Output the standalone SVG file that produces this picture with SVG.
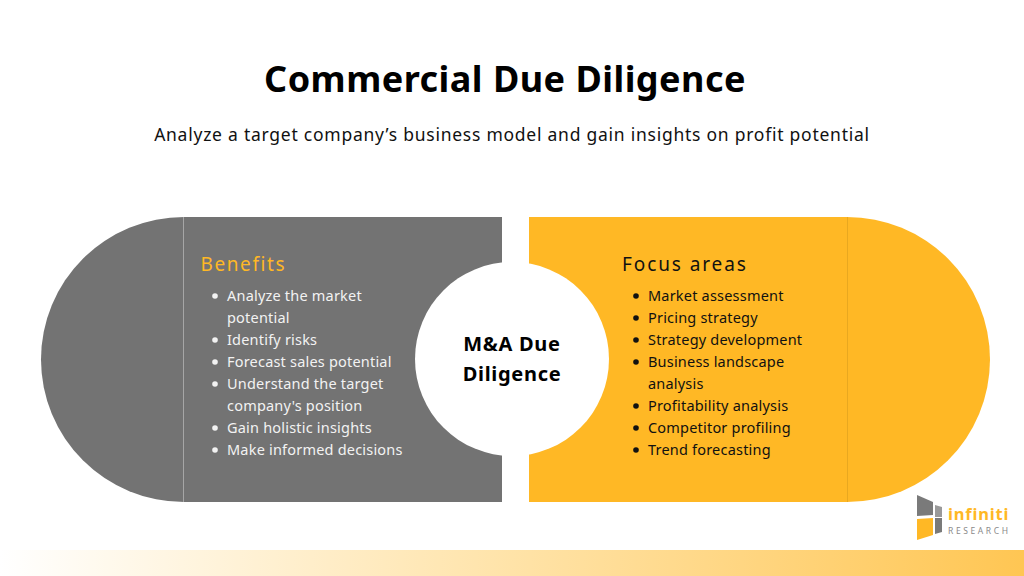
<svg xmlns="http://www.w3.org/2000/svg" width="1024" height="576" viewBox="0 0 1024 576">
<defs>
<linearGradient id="band" x1="0" x2="1" y1="0" y2="0"><stop offset="0" stop-color="#ffffff"/><stop offset="0.5" stop-color="#ffe3a8"/><stop offset="1" stop-color="#ffc653"/></linearGradient>
</defs>
<style>
text{font-family:"Noto Sans","Open Sans","DejaVu Sans",sans-serif}
.li{font-size:14.5px;letter-spacing:.2px}
.w{fill:#f2f2f2}.k{fill:#111}
.h{font-size:19px;letter-spacing:1.6px}
</style>
<rect width="1024" height="576" fill="#fff"/>
<rect id="band-bottom" x="0" y="550" width="1024" height="26" fill="url(#band)"/>
<g id="title">
<text x="505" y="92" text-anchor="middle" font-size="36" font-weight="700" letter-spacing=".47" fill="#000">Commercial Due Diligence</text>
<text x="512" y="141" text-anchor="middle" font-size="17.5" letter-spacing=".75" fill="#111">Analyze a target company’s business model and gain insights on profit potential</text>
</g>
<g id="benefits">
<path d="M184 217H502V502H184A143 142.500 0 0 1 184 217Z" fill="#737373"/>
<line x1="183.500" y1="217" x2="183.500" y2="502" stroke="#a6a6a6" stroke-width="1"/>
<text class="h" x="200.500" y="271" fill="#ffb825">Benefits</text>
<g class="w">
<circle cx="215" cy="296" r="2.800"/><circle cx="215" cy="340" r="2.800"/><circle cx="215" cy="362" r="2.800"/><circle cx="215" cy="384" r="2.800"/><circle cx="215" cy="428" r="2.800"/><circle cx="215" cy="450" r="2.800"/>
<text class="li" x="227" y="301">Analyze the market</text>
<text class="li" x="227" y="323">potential</text>
<text class="li" x="227" y="345">Identify risks</text>
<text class="li" x="227" y="367">Forecast sales potential</text>
<text class="li" x="227" y="389">Understand the target</text>
<text class="li" x="227" y="411">company's position</text>
<text class="li" x="227" y="433">Gain holistic insights</text>
<text class="li" x="227" y="455">Make informed decisions</text>
</g>
</g>
<g id="focus">
<path d="M529 217H847A143 142.500 0 0 1 847 502H529Z" fill="#ffb825"/>
<line x1="847.500" y1="217" x2="847.500" y2="502" stroke="#e8a820" stroke-width="1"/>
<text class="h k" x="622" y="271" style="letter-spacing:1.9px">Focus areas</text>
<g class="k">
<circle cx="636" cy="296" r="2.800"/><circle cx="636" cy="318" r="2.800"/><circle cx="636" cy="340" r="2.800"/><circle cx="636" cy="362" r="2.800"/><circle cx="636" cy="406" r="2.800"/><circle cx="636" cy="428" r="2.800"/><circle cx="636" cy="450" r="2.800"/>
<text class="li" x="648" y="301">Market assessment</text>
<text class="li" x="648" y="323">Pricing strategy</text>
<text class="li" x="648" y="345">Strategy development</text>
<text class="li" x="648" y="367">Business landscape</text>
<text class="li" x="648" y="389">analysis</text>
<text class="li" x="648" y="411">Profitability analysis</text>
<text class="li" x="648" y="433">Competitor profiling</text>
<text class="li" x="648" y="455">Trend forecasting</text>
</g>
</g>
<g id="center">
<circle cx="512" cy="359" r="97" fill="#fff"/>
<text x="512" y="351" text-anchor="middle" font-size="20" font-weight="700" letter-spacing=".7" fill="#000">M&amp;A Due</text>
<text x="512" y="381" text-anchor="middle" font-size="20" font-weight="700" letter-spacing=".7" fill="#000">Diligence</text>
</g>
<g id="logo">
<polygon points="917,495 933,502 933,515 917,516" fill="#7a7a7a"/>
<polygon points="935,505 942,507 942,517 935,517" fill="#9a9a9a"/>
<polygon points="917,519 933,518 933,535 917,540" fill="#ffb825"/>
<polygon points="935,518 942,518 942,532 935,534" fill="#7a7a7a"/>
<text x="948" y="520" font-size="16.500" font-weight="700" letter-spacing=".8" fill="#ffb825">infiniti</text>
<text x="948" y="533.500" font-size="8.500" letter-spacing="2.600" fill="#8a8a8a">RESEARCH</text>
</g>
</svg>
